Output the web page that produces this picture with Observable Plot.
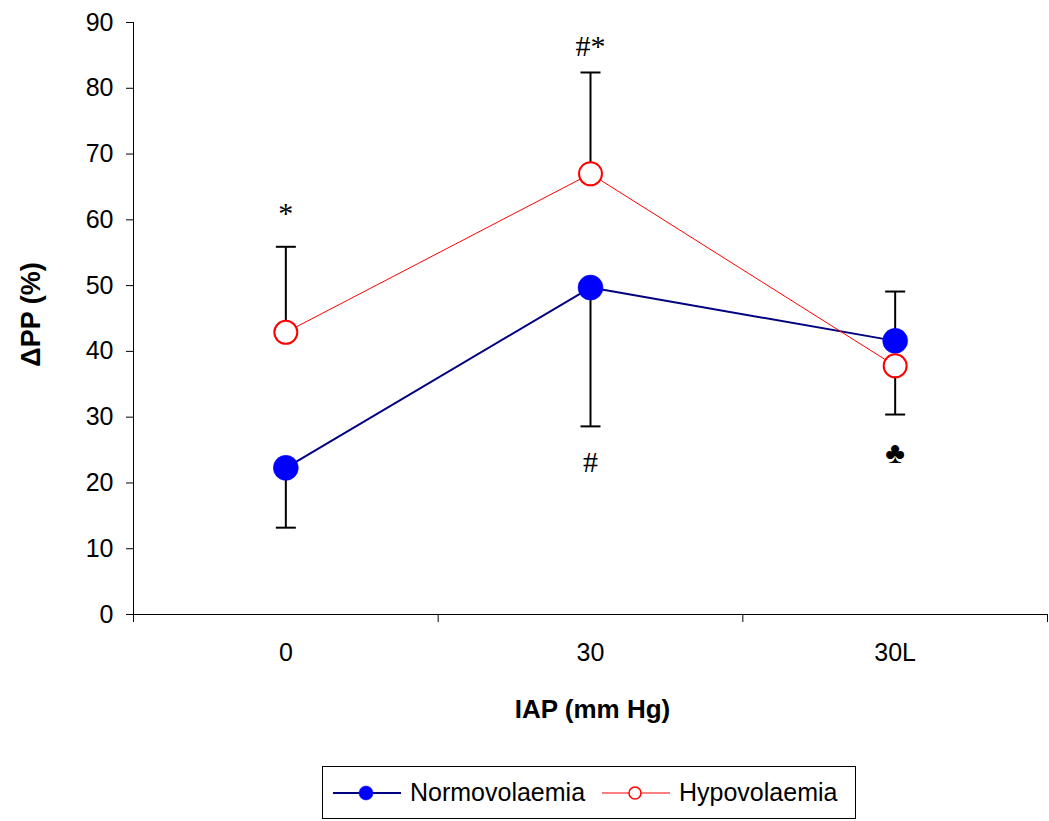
<!DOCTYPE html>
<html>
<head>
<meta charset="utf-8">
<script src="https://cdn.jsdelivr.net/npm/d3@7"></script>
<script src="https://cdn.jsdelivr.net/npm/@observablehq/plot@0.6"></script>
<style>
  html, body { margin: 0; padding: 0; background: white; }
  #wrap { position: relative; width: 1049px; height: 821px; font-family: "Liberation Sans", Arial, sans-serif; }
  #legend { position: absolute; left: 322px; top: 766px; width: 534px; height: 53px; border: 1px solid #000; box-sizing: border-box; background: white; }
  .item { position: absolute; top: 0; height: 51px; display: flex; align-items: center; font-size: 25px; color: #000; white-space: nowrap; }
  .item svg { margin-right: 9px; }
</style>
</head>
<body>
<div id="wrap">
  <div id="chart"></div>
  <div id="legend"></div>
</div>
<script>
// ---- data ----
const categories = ["0", "30", "30L"];
const normoMean = [22.3, 49.7, 41.6];
const normoBarEnd = [13.2, 28.6, 49.1];
const hypoMean = [42.9, 67.0, 37.8];
const hypoBarEnd = [55.9, 82.4, 30.4];
const annotCats = ["0", "30", "30", "30L"];
const annotY = [61.0, 86.3, 23.2, 24.5];
const annotText = ["*", "#*", "#", "\u2663"];
const yTicks = [0, 10, 20, 30, 40, 50, 60, 70, 80, 90];
const seriesNames = ["Normovolaemia", "Hypovolaemia"];

// ---- table ----
const idx = c => categories.indexOf(c) + 0.5;
const rows = categories.map((c, i) => ({
  cat: c, xc: idx(c),
  normo: normoMean[i], normoEnd: normoBarEnd[i],
  hypo: hypoMean[i], hypoEnd: hypoBarEnd[i]
}));
const annots = annotCats.map((c, i) => ({xc: idx(c), y: annotY[i], text: annotText[i]}));

// horizontal cap symbol
const capSymbol = {
  draw(ctx, size) {
    const r = Math.sqrt(size / Math.PI);
    ctx.moveTo(-r, 0);
    ctx.lineTo(r, 0);
  }
};

const navy = "#000080", blue = "#0000ff", red = "#ff0000";

const chart = Plot.plot({
  width: 1049,
  height: 745,
  marginLeft: 133,
  marginRight: 2,
  marginTop: 22,
  marginBottom: 131,
  style: "font-family: 'Liberation Sans', Arial, sans-serif; font-size: 25px; background: white; overflow: visible;",
  x: {type: "linear", domain: [0, categories.length], axis: null},
  y: {domain: [0, 90], axis: null},
  marks: [
    // axes
    Plot.axisY({ticks: yTicks, tickSize: 7, tickPadding: 13, fontSize: 25, label: null, stroke: "black", fill: "black"}),
    Plot.axisX({ticks: categories.map(idx), tickFormat: v => categories[Math.floor(v)], tickSize: 0, tickPadding: 29, fontSize: 25, label: null, fill: "black"}),
    Plot.axisX({ticks: d3.range(categories.length + 1), tickFormat: () => "", tickSize: 8, label: null, stroke: "black"}),
    Plot.ruleX([0], {stroke: "black", strokeWidth: 1}),
    Plot.ruleY([0], {stroke: "black", strokeWidth: 1}),
    // axis titles
    Plot.text(["\u0394PP (%)"], {frameAnchor: "left", textAnchor: "middle", lineAnchor: "middle", dx: -102, dy: -4, rotate: -90, fontSize: 27, fontWeight: "bold", fill: "black"}),
    Plot.text(["IAP (mm Hg)"], {frameAnchor: "bottom", textAnchor: "middle", lineAnchor: "middle", dx: 2, dy: 95, fontSize: 26, fontWeight: "bold", fill: "black"}),
    // error bars
    Plot.ruleX(rows, {x: "xc", y1: "normo", y2: "normoEnd", stroke: "black", strokeWidth: 2}),
    Plot.dot(rows, {x: "xc", y: "normoEnd", symbol: capSymbol, r: 10, stroke: "black", strokeWidth: 2}),
    Plot.ruleX(rows, {x: "xc", y1: "hypo", y2: "hypoEnd", stroke: "black", strokeWidth: 2}),
    Plot.dot(rows, {x: "xc", y: "hypoEnd", symbol: capSymbol, r: 10, stroke: "black", strokeWidth: 2}),
    // series
    Plot.line(rows, {x: "xc", y: "normo", stroke: navy, strokeWidth: 2}),
    Plot.dot(rows, {x: "xc", y: "normo", r: 12.5, fill: blue, stroke: blue, strokeWidth: 0.5}),
    Plot.line(rows, {x: "xc", y: "hypo", stroke: red, strokeWidth: 1}),
    Plot.dot(rows, {x: "xc", y: "hypo", r: 11.5, fill: "white", stroke: red, strokeWidth: 2}),
    // annotations
    Plot.text(annots, {x: "xc", y: "y", text: "text", fontSize: 30, fontFamily: "'Liberation Serif', 'Times New Roman', serif", fill: "black"})
  ]
});
document.getElementById("chart").appendChild(chart);

// ---- legend ----
const legend = document.getElementById("legend");
const legendSpecs = [
  {name: seriesNames[0], left: 10, line: navy, lw: 2, fill: blue, stroke: blue, r: 7, sw: 0.5},
  {name: seriesNames[1], left: 279, line: red, lw: 1, fill: "white", stroke: red, r: 6, sw: 1.5}
];
legendSpecs.forEach(s => {
  const div = document.createElement("div");
  div.className = "item";
  div.style.left = s.left + "px";
  div.innerHTML = `<svg width="68" height="20"><line x1="0" x2="68" y1="10" y2="10" stroke="${s.line}" stroke-width="${s.lw}"/><circle cx="33" cy="10" r="${s.r}" fill="${s.fill}" stroke="${s.stroke}" stroke-width="${s.sw}"/></svg><span>${s.name}</span>`;
  legend.appendChild(div);
});
</script>
</body>
</html>
